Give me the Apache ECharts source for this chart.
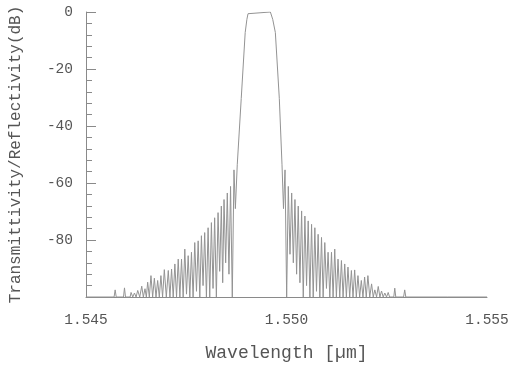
<!DOCTYPE html>
<html>
<head>
<meta charset="utf-8">
<script src="https://cdn.jsdelivr.net/npm/echarts@6/dist/echarts.min.js"></script>
<style>
html,body{margin:0;padding:0;background:#fff;}
#chart{width:515px;height:367px;}
</style>
</head>
<body>
<div id="chart"></div>
<script>
// Wavelength samples (µm), in ascending order
const wavelength = [
  1.545000,
  1.545700, 1.545727, 1.545754,
  1.545935, 1.545960, 1.545985,
  1.546100, 1.546124, 1.546166, 1.546208, 1.546249, 1.546290, 1.546340, 1.546390,
  1.546430, 1.546471, 1.546505, 1.546538, 1.546579, 1.546620, 1.546662, 1.546705,
  1.546746, 1.546787, 1.546828, 1.546868, 1.546910, 1.546953, 1.547003, 1.547052,
  1.547093, 1.547134, 1.547175, 1.547216, 1.547258, 1.547300, 1.547341, 1.547382,
  1.547423, 1.547464, 1.547506, 1.547548, 1.547589, 1.547630, 1.547671, 1.547712,
  1.547755, 1.547797, 1.547838, 1.547878, 1.547919, 1.547960, 1.548003, 1.548045,
  1.548086, 1.548127, 1.548168, 1.548208, 1.548251, 1.548293, 1.548334, 1.548375,
  1.548409, 1.548442, 1.548483, 1.548524, 1.548565, 1.548605, 1.548648, 1.548690,
  1.548725,
  1.548772, 1.548871, 1.548970, 1.549012, 1.549040, 1.549062,
  1.549598, 1.549625, 1.549657, 1.549722, 1.549821, 1.549888,
  1.549925, 1.549963,
  1.550004, 1.550045, 1.550087, 1.550129, 1.550170, 1.550211, 1.550252, 1.550293,
  1.550335, 1.550377, 1.550418, 1.550459, 1.550500, 1.550541, 1.550583, 1.550625,
  1.550666, 1.550707, 1.550748, 1.550789, 1.550831, 1.550873, 1.550914, 1.550955,
  1.550996, 1.551037, 1.551080, 1.551122, 1.551162, 1.551203, 1.551244, 1.551285,
  1.551328, 1.551370, 1.551411, 1.551452, 1.551493, 1.551533, 1.551576, 1.551618,
  1.551659, 1.551700, 1.551741, 1.551782, 1.551824, 1.551866, 1.551907, 1.551948,
  1.551989, 1.552030, 1.552076, 1.552122, 1.552163, 1.552203, 1.552246, 1.552288,
  1.552329, 1.552370, 1.552411, 1.552452, 1.552494, 1.552536, 1.552570,
  1.552675, 1.552700, 1.552725,
  1.552920, 1.552948, 1.552975,
  1.554010, 1.554025, 1.554040,
  1.555000
];

// Transmittivity/Reflectivity (dB) at each wavelength sample
const level = [
  -100,
  -100, -97.5, -100,
  -100, -96.8, -100,
  -100, -98.4, -100, -98.6, -100, -97.7, -100, -96.2,
  -100, -97.1, -100, -94.8, -100, -92.5, -100, -93.4,
  -100, -94.2, -100, -92.5, -100, -90.4, -100, -90.7,
  -100, -90.2, -100, -88.4, -100, -86.7, -100, -86.7,
  -100, -83.2, -99, -85.5, -100, -84.3, -100, -80.9,
  -98, -80.3, -100, -78.5, -96, -77.4, -100, -75.7,
  -100, -73.9, -97, -72.2, -100, -70.4, -91, -68.1,
  -95, -65.8, -88, -63.5, -92, -61.2, -100, -55.4,
  -69,
  -53.6, -30.4, -7.2, -2.6, -0.6, 0,
  0, -0.6, -2.6, -7.2, -30.4, -53.6,
  -69, -55.4,
  -100, -61.2, -85, -63.5, -88, -65.8, -92, -68.1,
  -95, -69.8, -100, -71.6, -96, -73.3, -100, -74.5,
  -100, -75.7, -98, -78, -100, -79.1, -100, -80.9,
  -97, -84.3, -100, -84.3, -100, -83.2, -100, -86.7,
  -100, -87.2, -100, -88.4, -100, -89.5, -100, -90.7,
  -100, -90.5, -100, -92.5, -100, -94.2, -100, -93,
  -100, -92.5, -100, -95.4, -100, -97.5, -100, -96.3,
  -100, -97.9, -100, -98.6, -100, -98.4, -100,
  -100, -96.9, -100,
  -100, -97.5, -100,
  -100, -99.3, -100,
  -100
];

const yTickLabels = ['0', '-20', '-40', '-60', '-80'];
const xTickLabels = ['1.545', '1.550', '1.555'];

const font = '"Liberation Mono", "Courier New", "DejaVu Sans Mono", monospace';
const axisGray = '#8a8a8a';
const chart = echarts.init(document.getElementById('chart'), null, {renderer: 'canvas'});
chart.setOption({
  animation: false,
  backgroundColor: '#ffffff',
  grid: {left: 84, right: 28, top: 12, bottom: 67, containLabel: false},
  xAxis: {
    type: 'value',
    min: 1.545, max: 1.555, interval: 0.005,
    name: 'Wavelength [µm]',
    nameLocation: 'middle',
    nameGap: 47,
    nameTextStyle: {fontFamily: font, fontSize: 18, color: '#555'},
    axisLine: {show: true, onZero: false, lineStyle: {color: axisGray, width: 1}},
    axisTick: {show: false},
    splitLine: {show: false},
    axisLabel: {
      margin: 16, fontFamily: font, fontSize: 14.5, color: '#555',
      formatter: function (v) {
        const s = v.toFixed(3);
        return xTickLabels.indexOf(s) >= 0 ? s : '';
      }
    }
  },
  yAxis: [{
    type: 'value',
    min: -100, max: 0, interval: 20,
    name: 'Transmittivity/Reflectivity(dB)',
    nameLocation: 'middle',
    nameGap: 62,
    nameRotate: 90,
    nameTextStyle: {fontFamily: font, fontSize: 16, color: '#555'},
    axisLine: {show: true, onZero: false, lineStyle: {color: axisGray, width: 1}},
    axisTick: {show: true, inside: true, length: 10, lineStyle: {color: axisGray}},
    splitLine: {show: false},
    axisLabel: {
      margin: 13, fontFamily: font, fontSize: 14.5, color: '#555',
      formatter: function (v) {
        const s = String(Math.round(v));
        return yTickLabels.indexOf(s) >= 0 ? s : '';
      }
    }
  }, {
    // minor ticks (every 4 dB), pointing into the plot
    type: 'value',
    position: 'left',
    min: -100, max: 0, interval: 4,
    axisLine: {show: false, onZero: false},
    axisTick: {show: true, inside: true, length: 6, lineStyle: {color: axisGray}},
    axisLabel: {show: false},
    splitLine: {show: false}
  }],
  series: [{
    type: 'line',
    data: wavelength.map((w, i) => [w, level[i]]),
    showSymbol: false,
    symbol: 'none',
    lineStyle: {color: '#939393', width: 1},
    z: 3
  }]
});
</script>
</body>
</html>
